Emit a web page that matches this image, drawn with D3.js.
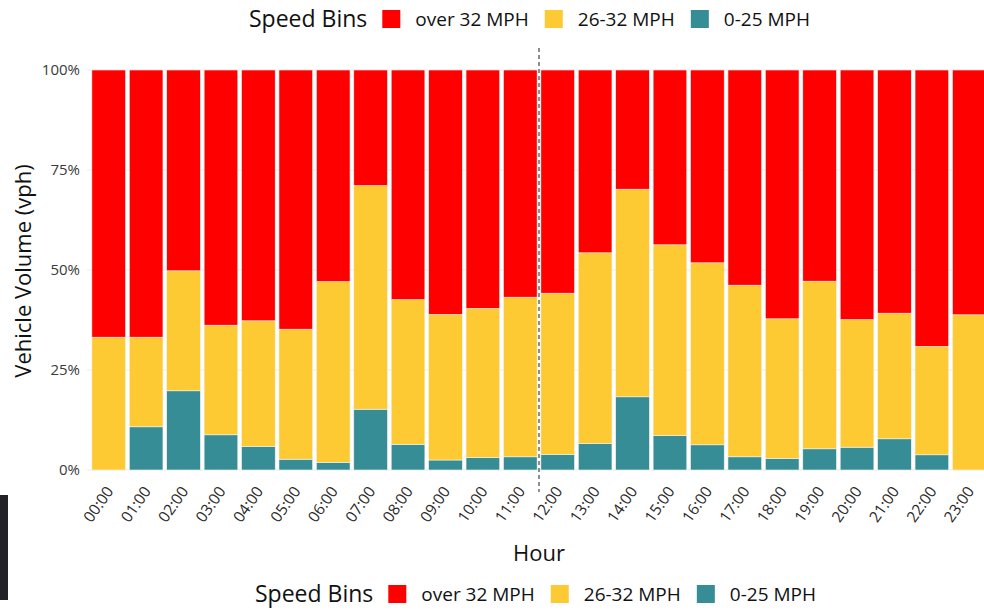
<!DOCTYPE html>
<html lang="en">
<head>
	<title>Vehicle Volume by Speed Bin and Hour</title>
	<style>
	body { margin: 0; background: #fff; }
	text { font-family: 'Open Sans', sans-serif; }
	</style>
</head>
<body>
	<svg width="984" height="610"></svg>
	<script src="https://d3js.org/d3.v7.min.js"></script>
	<script>

	// hours and share of vehicles (percent) in each speed bin
	var hours = ["00:00","01:00","02:00","03:00","04:00","05:00","06:00","07:00","08:00","09:00","10:00","11:00",
		"12:00","13:00","14:00","15:00","16:00","17:00","18:00","19:00","20:00","21:00","22:00","23:00"];
	var slow = [0, 10.8, 19.8, 8.8, 5.9, 2.7, 1.9, 15.2, 6.4, 2.5, 3.1, 3.3,
		3.9, 6.6, 18.3, 8.6, 6.3, 3.3, 2.9, 5.3, 5.7, 7.8, 3.8, 0];
	var mid = [33.2, 22.4, 30.0, 27.4, 31.4, 32.5, 45.2, 55.9, 36.2, 36.4, 37.3, 39.9,
		40.3, 47.7, 51.9, 47.7, 45.5, 42.9, 34.9, 41.9, 31.9, 31.4, 27.1, 38.8];
	var fast = [66.8, 66.8, 50.2, 63.8, 62.7, 64.8, 52.9, 28.9, 57.4, 61.1, 59.6, 56.8,
		55.8, 45.7, 29.8, 43.7, 48.2, 53.8, 62.2, 52.8, 62.4, 60.8, 69.1, 61.2];

	var binKeys = ["slow", "mid", "fast"];
	var binLabels = ["over 32 MPH", "26-32 MPH", "0-25 MPH"];   // legend order
	var legendKeys = ["fast", "mid", "slow"];
	var yTicks = [0, 0.25, 0.5, 0.75, 1];
	var dividerHour = 11.5; // dashed line at noon

	var svg = d3.select("svg"),
		width = +svg.attr("width"),
		height = +svg.attr("height");

	var color = d3.scaleOrdinal()
		.domain(binKeys)
		.range(["#368d95", "#fdca33", "#ff0000"]);

	var rows = hours.map(function(h, i) {
		var tot = slow[i] + mid[i] + fast[i];
		return { hour: h, slow: slow[i] / tot, mid: mid[i] / tot, fast: fast[i] / tot };
	});

	var x = d3.scaleBand()
		.domain(hours)
		.range([90, 988])
		.paddingInner(0.1)
		.paddingOuter(0.05);

	var y = d3.scaleLinear()
		.domain([0, 1])
		.range([470, 70]);

	// grid
	svg.append("g")
		.selectAll("line")
		.data(yTicks)
		.enter().append("line")
		  .attr("x1", 87).attr("x2", width)
		  .attr("y1", function(d) { return y(d); })
		  .attr("y2", function(d) { return y(d); })
		  .style("stroke", "#ebebeb")
		  .style("stroke-width", 1);

	var stacked = d3.stack().keys(binKeys)(rows);

	svg.append("g")
		.selectAll("g")
		.data(stacked)
		.enter().append("g")
		  .attr("fill", function(d) { return color(d.key); })
		.selectAll("rect")
		.data(function(d) { return d; })
		.enter().append("rect")
		  .attr("x", function(d) { return x(d.data.hour); })
		  .attr("width", x.bandwidth())
		  .attr("y", function(d) { return y(d[1]); })
		  .attr("height", function(d) { return y(d[0]) - y(d[1]); })
		  .style("stroke", "#f4f4f4")
		  .style("stroke-width", 0.6);

	// y axis labels
	svg.append("g")
		.selectAll("text")
		.data(yTicks)
		.enter().append("text")
		  .attr("x", 80)
		  .attr("y", function(d) { return y(d); })
		  .attr("dy", "0.35em")
		  .attr("text-anchor", "end")
		  .style("font-size", "15px")
		  .style("fill", "#3a3a3a")
		  .text(d3.format(".0%"));

	// x axis labels
	svg.append("g")
		.selectAll("text")
		.data(hours)
		.enter().append("text")
		  .attr("transform", function(d) {
			return "translate(" + (x(d) + x.bandwidth() / 2 + 1) + ",488) rotate(-55)";
		  })
		  .attr("dy", "0.35em")
		  .attr("text-anchor", "end")
		  .style("font-size", "15.5px")
		  .style("fill", "#2a2a2a")
		  .text(function(d) { return d; });

	// noon divider
	var divX = x(hours[0]) + x.bandwidth() / 2 + dividerHour * x.step();
	svg.append("line")
		.attr("x1", divX).attr("x2", divX)
		.attr("y1", 48).attr("y2", 492)
		.style("stroke", "#444")
		.style("stroke-width", 1.2)
		.style("stroke-dasharray", "4,3");

	// axis titles
	svg.append("text")
		.attr("transform", "translate(31,271) rotate(-90)")
		.attr("text-anchor", "middle")
		.style("font-size", "22px")
		.style("fill", "#111")
		.text("Vehicle Volume (vph)");

	svg.append("text")
		.attr("x", 539)
		.attr("y", 561)
		.attr("text-anchor", "middle")
		.style("font-size", "22px")
		.style("fill", "#111")
		.text("Hour");

	// legends (top and bottom)
	function legend(x0, yc) {
		var g = svg.append("g");
		var title = g.append("text")
			.attr("x", x0).attr("y", yc).attr("dy", "0.35em")
			.style("font-size", "23px")
			.style("fill", "#111")
			.text("Speed Bins");
		var cx = x0 + title.node().getComputedTextLength() + 15;
		legendKeys.forEach(function(k, i) {
			g.append("rect")
				.attr("x", cx).attr("y", yc - 9)
				.attr("width", 18).attr("height", 18)
				.attr("fill", color(k));
			var t = g.append("text")
				.attr("x", cx + 33).attr("y", yc).attr("dy", "0.35em")
				.style("font-size", "19px")
				.style("fill", "#111")
				.text(binLabels[i]);
			cx += 33 + t.node().getComputedTextLength() + 16;
		});
	}
	legend(249, 19);
	legend(255, 594);

	// dark strip from the screenshot at lower left
	svg.append("rect")
		.attr("x", 0).attr("y", 495)
		.attr("width", 8).attr("height", 105)
		.attr("fill", "#222228");

	</script>
</body>
</html>
